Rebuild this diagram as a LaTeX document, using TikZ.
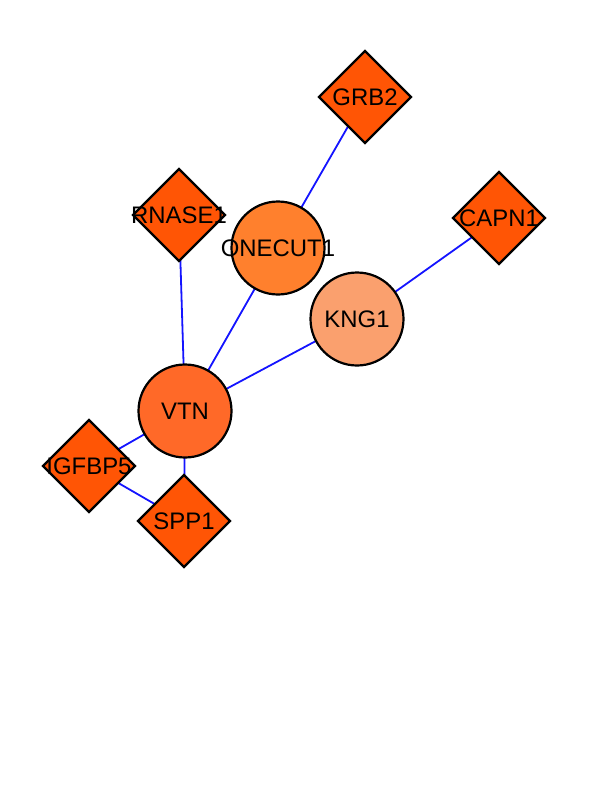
\documentclass[tikz,border=0pt]{standalone}
\usepackage{fontspec}
\setmainfont{Liberation Sans}
\usetikzlibrary{shapes.geometric,backgrounds}
\definecolor{dia}{RGB}{255,85,5}
\definecolor{onec}{RGB}{255,128,45}
\definecolor{vtnc}{RGB}{255,105,40}
\definecolor{kngc}{RGB}{250,160,110}
\definecolor{edgeblue}{RGB}{20,20,255}
\tikzset{
  gene/.style={draw=black,line width=2.2bp,inner sep=0pt,label={[font=\fontsize{24}{24}\selectfont,text=black]center:#1}},
  dnode/.style={gene=#1,diamond,fill=dia,minimum width=93bp,minimum height=93bp},
  cnode/.style={gene=#1,circle,minimum size=93bp},
  link/.style={draw=edgeblue,line width=1.8bp}
}
\begin{document}
\begin{tikzpicture}[x=1bp,y=-1bp]
\useasboundingbox (0,0) rectangle (612,792);
\node[dnode=GRB2] (grb2) at (365,97) {};
\node[dnode=RNASE1] (rnase1) at (179,215) {};
\node[cnode=ONECUT1,fill=onec] (onecut1) at (278,248) {};
\node[dnode=CAPN1] (capn1) at (499,218) {};
\node[cnode=KNG1,fill=kngc] (kng1) at (357,319) {};
\node[cnode=VTN,fill=vtnc] (vtn) at (185,411) {};
\node[dnode=IGFBP5] (igfbp5) at (89,466) {};
\node[dnode=SPP1] (spp1) at (184,521) {};
\begin{scope}[on background layer]
\draw[link] (grb2.center) -- (onecut1.center);
\draw[link] (rnase1.center) -- (vtn.center);
\draw[link] (onecut1.center) -- (vtn.center);
\draw[link] (kng1.center) -- (vtn.center);
\draw[link] (capn1.center) -- (kng1.center);
\draw[link] (vtn.center) -- (igfbp5.center);
\draw[link] (vtn.center) -- (spp1.center);
\draw[link] (igfbp5.center) -- (spp1.center);
\end{scope}
\end{tikzpicture}
\end{document}
